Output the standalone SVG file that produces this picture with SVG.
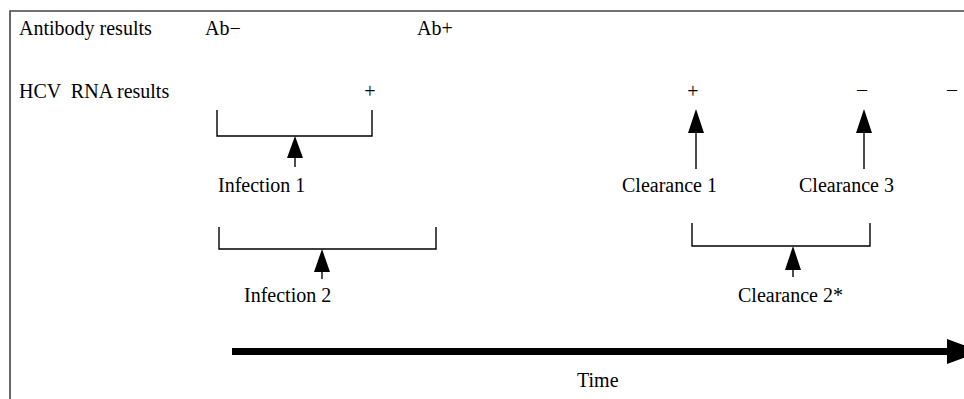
<svg xmlns="http://www.w3.org/2000/svg" width="964" height="399" viewBox="0 0 964 399">
<style>
text{font-family:"Liberation Serif","Times New Roman",serif;font-size:20px;fill:#000}
.ln{fill:none;stroke:#000;stroke-width:1.4}
.frame{fill:none;stroke:#444;stroke-width:1.6}
.head{fill:#000}
</style>
<rect width="964" height="399" fill="#fff"/>
<path class="frame" d="M10,400 V11 H966"/>
<g id="labels">
<text x="19" y="35">Antibody results</text>
<text x="205" y="35">Ab−</text>
<text x="417" y="35">Ab+</text>
<text x="19" y="98" xml:space="preserve">HCV  RNA results</text>
<text x="370" y="98" text-anchor="middle">+</text>
<text x="693" y="98" text-anchor="middle">+</text>
<text x="862" y="96" text-anchor="middle">–</text>
<text x="952" y="96" text-anchor="middle">–</text>
</g>
<g id="infection1">
<path class="ln" d="M217,110 V136 H372 V110"/>
<path class="ln" d="M295,150 V167"/>
<polygon class="head" points="295,136 303,158 287,158"/>
<text x="218" y="192">Infection 1</text>
</g>
<g id="infection2">
<path class="ln" d="M219,227 V249 H436 V227"/>
<path class="ln" d="M322,262 V279"/>
<polygon class="head" points="322,249 330,272 314,272"/>
<text x="244" y="302">Infection 2</text>
</g>
<g id="clearance1">
<path class="ln" d="M696,125 V169"/>
<polygon class="head" points="696,109 704,133 688,133"/>
<text x="622" y="192">Clearance 1</text>
</g>
<g id="clearance3">
<path class="ln" d="M864,125 V169"/>
<polygon class="head" points="864,109 872,133 856,133"/>
<text x="799" y="192">Clearance 3</text>
</g>
<g id="clearance2">
<path class="ln" d="M692,223 V246 H870 V223"/>
<path class="ln" d="M793,260 V277"/>
<polygon class="head" points="793,246 801,270 785,270"/>
<text x="738" y="302">Clearance 2*</text>
</g>
<g id="connectors">
<path d="M232,351.5 H950" stroke="#000" stroke-width="7" fill="none"/>
<polygon class="head" points="947,339 981,351.5 947,364"/>
</g>
<g id="time">
<text x="577" y="387">Time</text>
</g>
</svg>
